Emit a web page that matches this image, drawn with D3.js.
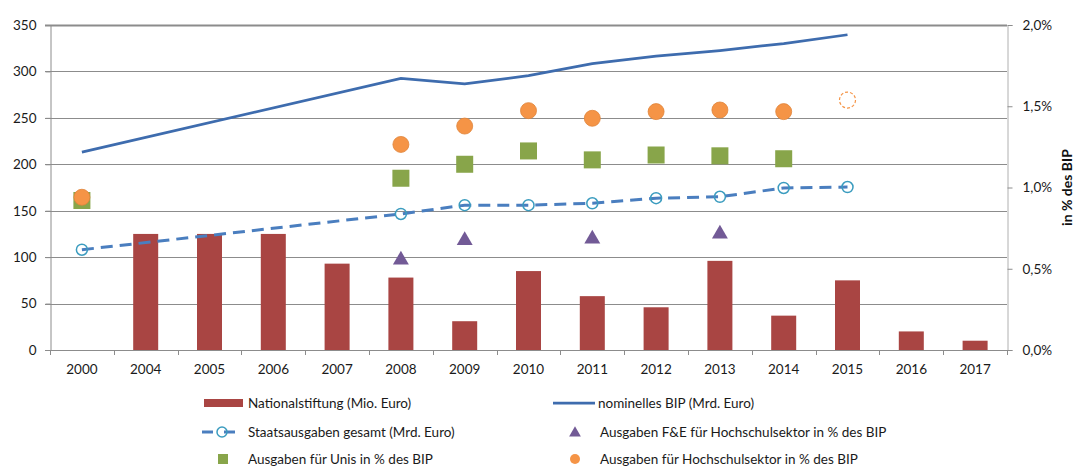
<!DOCTYPE html>
<html>
<head>
<meta charset="utf-8">
<script src="https://cdn.jsdelivr.net/npm/d3@7"></script>
<style>
  body { margin: 0; background: #fff; }
  svg { font-family: Lato, "Open Sans", sans-serif; }
</style>
</head>
<body>
<svg id="chart" width="1076" height="466"></svg>
<script>
// data
var years = ["2000", "2004", "2005", "2006", "2007", "2008", "2009", "2010", "2011", "2012", "2013", "2014", "2015", "2016", "2017"];
var nationalstiftung = [null, 125, 125, 125, 93, 78, 31, 85, 58, 46, 96, 37, 75, 20, 10];
var bip = [213, null, null, null, null, 292.5, 286.5, 295.5, 308.5, 316.5, 322.5, 330, 339.5, null, null];
var staatsausgaben = [108, null, null, null, null, 146.5, 156, 156, 158, 163.5, 165, 174.5, 175.5, null, null];
var feHochschule = [null, null, null, null, null, 0.0056, 0.0068, null, 0.0069, null, 0.0072, null, null, null, null];
var unis = [0.0092, null, null, null, null, 0.01057, 0.01143, 0.01225, 0.0117, 0.012, 0.01195, 0.01177, null, null, null];
var hochschulsektor = [0.0094, null, null, null, null, 0.01265, 0.01378, 0.01473, 0.01426, 0.01467, 0.01477, 0.01467, 0.01538, null, null];
var estimateYears = ["2015"];
var leftTicks = [0, 50, 100, 150, 200, 250, 300, 350];
var rightTicks = [0, 0.005, 0.01, 0.015, 0.02];

var svg = d3.select("#chart");
var margin = { top: 25, right: 69, bottom: 116, left: 50 };
var width = 1076, height = 466;
var plotBottom = height - margin.bottom;   // 350
var plotRight = width - margin.right;      // 1007

var colors = {
  bar: "#a94543",
  bip: "#3e6cae",
  staat: "#4a7ebf",
  staatMarker: "#3b9cbf",
  fe: "#725a96",
  unis: "#88a54a",
  hoch: "#f59446"
};

var x = d3.scaleBand().domain(years).range([margin.left, plotRight]).paddingInner(0).paddingOuter(0);
var yL = d3.scaleLinear().domain([0, 350]).range([plotBottom, margin.top]);
var yR = d3.scaleLinear().domain([0, 0.02]).range([plotBottom, margin.top]);
var cx = function (yr) { return x(yr) + x.bandwidth() / 2; };

var de = d3.formatLocale({ decimal: ",", thousands: ".", grouping: [3], currency: ["", " €"] });
var pct = de.format(".1%");

// gridlines
svg.append("g")
  .selectAll("line")
  .data(leftTicks)
  .join("line")
  .attr("x1", margin.left - 5)
  .attr("x2", plotRight)
  .attr("y1", d => Math.round(yL(d)) + 0.5)
  .attr("y2", d => Math.round(yL(d)) + 0.5)
  .attr("stroke", "#8c8c8c")
  .attr("stroke-width", d => d == 350 ? 2 : 1);

// left axis
var gL = svg.append("g")
  .attr("transform", `translate(${margin.left + 0.5},0)`)
  .call(d3.axisLeft(yL).tickValues(leftTicks).tickSize(5).tickPadding(9).tickFormat(d3.format("d")));
gL.select(".domain").attr("stroke", "#8c8c8c");
gL.selectAll(".tick line").attr("stroke", "#8c8c8c");
gL.selectAll("text").attr("font-size", "13.5px").attr("fill", "#1a1a1a").attr("font-family", "Lato");

// right axis
var gR = svg.append("g")
  .attr("transform", `translate(${plotRight + 0.5},0)`)
  .call(d3.axisRight(yR).tickValues(rightTicks).tickSize(5).tickPadding(10).tickFormat(pct));
gR.select(".domain").attr("stroke", "#b0b0b0");
gR.selectAll(".tick line").attr("stroke", "#8c8c8c");
gR.selectAll("text").attr("font-size", "13.5px").attr("fill", "#1a1a1a").attr("font-family", "Lato");

svg.append("text")
  .attr("transform", `translate(1072,${(margin.top + plotBottom) / 2}) rotate(-90)`)
  .attr("text-anchor", "middle")
  .attr("font-size", "14px")
  .attr("font-weight", "bold")
  .attr("fill", "#111")
  .text("in % des BIP");

// bars
svg.append("g")
  .selectAll("rect")
  .data(years.map((yr, i) => ({ year: yr, v: nationalstiftung[i] })).filter(d => d.v != null))
  .join("rect")
  .attr("x", d => cx(d.year) - 12.5)
  .attr("width", 25)
  .attr("y", d => yL(d.v))
  .attr("height", d => yL(0) - yL(d.v))
  .attr("fill", colors.bar);

// bottom axis
var gX = svg.append("g")
  .attr("transform", `translate(0,${plotBottom + 0.5})`)
  .call(d3.axisBottom(x).tickSize(0).tickPadding(14));
gX.select(".domain").remove();
gX.selectAll("text").attr("font-size", "13.5px").attr("fill", "#1a1a1a").attr("font-family", "Lato");
svg.append("line")
  .attr("x1", margin.left - 5).attr("x2", plotRight + 5)
  .attr("y1", plotBottom + 0.5).attr("y2", plotBottom + 0.5)
  .attr("stroke", "#8c8c8c");
svg.append("g")
  .selectAll("line")
  .data(d3.range(years.length + 1))
  .join("line")
  .attr("x1", i => Math.round(margin.left + i * x.step()) + 0.5)
  .attr("x2", i => Math.round(margin.left + i * x.step()) + 0.5)
  .attr("y1", plotBottom)
  .attr("y2", plotBottom + 5)
  .attr("stroke", "#8c8c8c");

// lines (gaps spanned like the original)
var bipPts = years.map((yr, i) => ({ year: yr, v: bip[i] })).filter(d => d.v != null);
var staatPts = years.map((yr, i) => ({ year: yr, v: staatsausgaben[i] })).filter(d => d.v != null);
var line = d3.line().x(d => cx(d.year)).y(d => yL(d.v));

svg.append("path")
  .datum(staatPts)
  .attr("d", line)
  .attr("fill", "none")
  .attr("stroke", colors.staat)
  .attr("stroke-width", 3)
  .attr("stroke-dasharray", "12,7");

svg.append("path")
  .datum(bipPts)
  .attr("d", line)
  .attr("fill", "none")
  .attr("stroke", colors.bip)
  .attr("stroke-width", 2.75);

svg.append("g")
  .selectAll("circle")
  .data(staatPts)
  .join("circle")
  .attr("cx", d => cx(d.year))
  .attr("cy", d => yL(d.v))
  .attr("r", 5.5)
  .attr("fill", "none")
  .attr("stroke", colors.staatMarker)
  .attr("stroke-width", 1.5);

// markers on the % axis
var fePts = years.map((yr, i) => ({ year: yr, v: feHochschule[i] })).filter(d => d.v != null);
var uniPts = years.map((yr, i) => ({ year: yr, v: unis[i] })).filter(d => d.v != null);
var hochPts = years.map((yr, i) => ({ year: yr, v: hochschulsektor[i] })).filter(d => d.v != null);

svg.append("g")
  .selectAll("path")
  .data(fePts)
  .join("path")
  .attr("d", d3.symbol(d3.symbolTriangle, 110))
  .attr("transform", d => `translate(${cx(d.year)},${yR(d.v) + 1})`)
  .attr("fill", colors.fe);

svg.append("g")
  .selectAll("rect")
  .data(uniPts)
  .join("rect")
  .attr("x", d => cx(d.year) - 8.5)
  .attr("y", d => yR(d.v) - 8.5)
  .attr("width", 17)
  .attr("height", 17)
  .attr("fill", colors.unis);

svg.append("g")
  .selectAll("circle")
  .data(hochPts)
  .join("circle")
  .attr("cx", d => cx(d.year))
  .attr("cy", d => yR(d.v))
  .attr("r", 8)
  .attr("fill", d => estimateYears.includes(d.year) ? "none" : colors.hoch)
  .attr("stroke", d => estimateYears.includes(d.year) ? colors.hoch : "#e0843a")
  .attr("stroke-width", d => estimateYears.includes(d.year) ? 1.2 : 0.8)
  .attr("stroke-dasharray", d => estimateYears.includes(d.year) ? "3,2" : null);

// legend
var leg = svg.append("g").attr("font-size", "13.5px").attr("fill", "#1a1a1a").attr("font-family", "Lato");
var rows = [403, 432, 459];

leg.append("rect").attr("x", 204).attr("y", rows[0] - 4).attr("width", 39).attr("height", 8).attr("fill", colors.bar);
leg.append("text").attr("x", 248).attr("y", rows[0]).attr("dy", "0.35em").text("Nationalstiftung (Mio. Euro)");

leg.append("line").attr("x1", 553).attr("x2", 595).attr("y1", rows[0]).attr("y2", rows[0])
  .attr("stroke", colors.bip).attr("stroke-width", 2.75);
leg.append("text").attr("x", 598).attr("y", rows[0]).attr("dy", "0.35em").text("nominelles BIP (Mrd. Euro)");

leg.append("line").attr("x1", 202).attr("x2", 213).attr("y1", rows[1]).attr("y2", rows[1])
  .attr("stroke", colors.staat).attr("stroke-width", 3);
leg.append("line").attr("x1", 224).attr("x2", 235).attr("y1", rows[1]).attr("y2", rows[1])
  .attr("stroke", colors.staat).attr("stroke-width", 3);
leg.append("circle").attr("cx", 222).attr("cy", rows[1]).attr("r", 5)
  .attr("fill", "none").attr("stroke", colors.staatMarker).attr("stroke-width", 1.5);
leg.append("text").attr("x", 248).attr("y", rows[1]).attr("dy", "0.35em").text("Staatsausgaben gesamt (Mrd. Euro)");

leg.append("path").attr("d", d3.symbol(d3.symbolTriangle, 60)).attr("transform", `translate(575,${rows[1] + 1})`).attr("fill", colors.fe);
leg.append("text").attr("x", 600).attr("y", rows[1]).attr("dy", "0.35em").text("Ausgaben F&E für Hochschulsektor in % des BIP");

leg.append("rect").attr("x", 218).attr("y", rows[2] - 5).attr("width", 10).attr("height", 10).attr("fill", colors.unis);
leg.append("text").attr("x", 248).attr("y", rows[2]).attr("dy", "0.35em").text("Ausgaben für Unis in % des BIP");

leg.append("circle").attr("cx", 575).attr("cy", rows[2]).attr("r", 5).attr("fill", colors.hoch);
leg.append("text").attr("x", 600).attr("y", rows[2]).attr("dy", "0.35em").text("Ausgaben für Hochschulsektor in % des BIP");
</script>
</body>
</html>
